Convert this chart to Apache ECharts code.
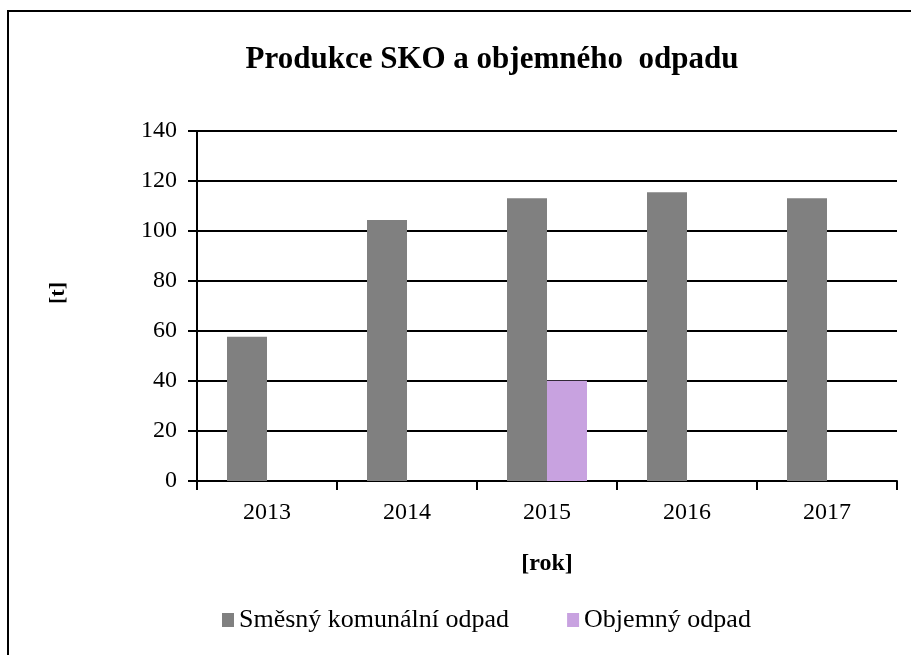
<!DOCTYPE html>
<html>
<head>
<meta charset="utf-8">
<script src="https://cdn.jsdelivr.net/npm/echarts@6/dist/echarts.min.js"></script>
<style>
html,body{margin:0;padding:0;background:#fff;}
#chart{width:911px;height:655px;}
</style>
</head>
<body>
<div id="chart"></div>
<script>
const categories = ['2013', '2014', '2015', '2016', '2017'];
const seriesNames = ['Směsný komunální odpad', 'Objemný odpad'];
const smesnyValues = [57.7, 104.4, 113.1, 115.5, 113.1];
const objemnyValues = [null, null, 40.1, null, null];
const yTicks = { min: 0, max: 140, interval: 20 };

const FONT = '"Liberation Serif", "Times New Roman", serif';
const chart = echarts.init(document.getElementById('chart'));
chart.setOption({
  animation: false,
  backgroundColor: '#fff',
  title: {
    text: 'Produkce SKO a objemného  odpadu',
    left: 487,
    top: 39,
    textAlign: 'center',
    textStyle: { fontFamily: FONT, fontSize: 31, fontWeight: 'bold', color: '#000' }
  },
  graphic: [{
    type: 'rect',
    shape: { x: 8, y: 11, width: 1000, height: 1000 },
    style: { fill: 'none', stroke: '#000', lineWidth: 2 },
    silent: true
  }],
  legend: {
    left: 217,
    top: 602,
    icon: 'rect',
    itemWidth: 12,
    itemHeight: 14,
    itemGap: 58,
    textStyle: { fontFamily: FONT, fontSize: 26, color: '#000' },
    data: seriesNames
  },
  grid: { left: 197, right: 14, top: 131, bottom: 174, containLabel: false },
  xAxis: {
    type: 'category',
    data: categories,
    name: '[rok]',
    nameLocation: 'middle',
    nameGap: 71,
    nameTextStyle: { fontFamily: FONT, fontSize: 24, fontWeight: 'bold', color: '#000' },
    axisLine: { show: true, lineStyle: { color: '#000', width: 2 } },
    axisTick: { show: true, alignWithLabel: false, length: 9, lineStyle: { color: '#000', width: 2 } },
    axisLabel: { fontFamily: FONT, fontSize: 24, color: '#000', margin: 20 },
    splitLine: { show: false }
  },
  yAxis: {
    type: 'value',
    min: yTicks.min,
    max: yTicks.max,
    interval: yTicks.interval,
    name: '[t]',
    nameLocation: 'middle',
    nameRotate: 90,
    nameGap: 128,
    nameTextStyle: { fontFamily: FONT, fontSize: 22, fontWeight: 'bold', color: '#000', padding: [0, 0, 0, 26] },
    axisLine: { show: true, lineStyle: { color: '#000', width: 2 } },
    axisTick: { show: true, length: 9, lineStyle: { color: '#000', width: 2 } },
    axisLabel: { fontFamily: FONT, fontSize: 24, color: '#000', margin: 20 },
    splitLine: { show: true, lineStyle: { color: '#000', width: 2 } }
  },
  series: [
    {
      name: seriesNames[0],
      type: 'bar',
      data: smesnyValues,
      barWidth: 40,
      barGap: '0%',
      itemStyle: { color: '#808080' }
    },
    {
      name: seriesNames[1],
      type: 'bar',
      data: objemnyValues,
      barWidth: 40,
      barGap: '0%',
      itemStyle: { color: '#c8a2e0' }
    }
  ]
});
</script>
</body>
</html>
